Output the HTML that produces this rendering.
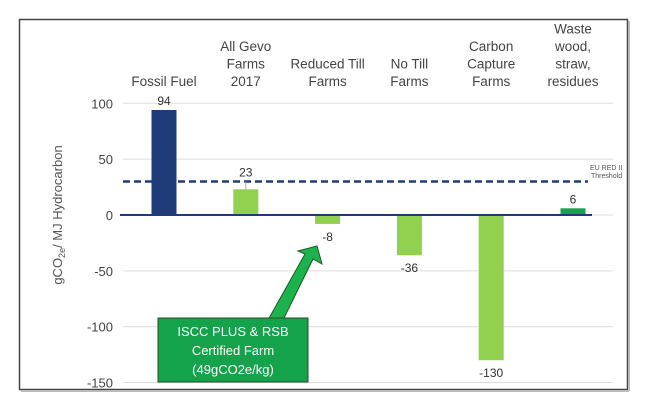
<!DOCTYPE html>
<html><head><meta charset="utf-8"><style>
body{margin:0;background:#fff;font-family:"Liberation Sans","DejaVu Sans",sans-serif;}
svg text{font-family:"Liberation Sans","DejaVu Sans",sans-serif;}
</style></head><body>
<svg id="chart" width="650" height="402" viewBox="0 0 650 402" xmlns="http://www.w3.org/2000/svg">
<rect x="19.5" y="19.5" width="608" height="370" fill="#fff" stroke="#444" stroke-width="1.5"/>
<line x1="21" y1="391" x2="629" y2="391" stroke="#bbb" stroke-width="2"/>
<line x1="629" y1="21" x2="629" y2="391" stroke="#bbb" stroke-width="2"/>
<g id="grid"></g><g id="bars"></g><g id="labels"></g>
<text transform="translate(62,215) rotate(-90)" text-anchor="middle" font-size="13" fill="#555">gCO<tspan font-size="9" dy="3">2e</tspan><tspan dy="-3">/ MJ Hydrocarbon</tspan></text>
<text x="590" y="170" font-size="7" fill="#555">EU RED II</text>
<text x="591" y="178" font-size="7" fill="#555">Threshold</text>
<polygon points="268,320 283,320 313,259 322,264 317,246 298,251 305,254" fill="#1db34c" stroke="#1a5a2a" stroke-width="1"/>
<rect x="158" y="318" width="150" height="64" fill="#14a24a" stroke="#2b4a2b" stroke-width="1"/>
<text x="233" y="336" text-anchor="middle" font-size="13" fill="#fff">ISCC PLUS &amp; RSB</text>
<text x="233" y="355" text-anchor="middle" font-size="13" fill="#fff">Certified Farm</text>
<text x="233" y="374" text-anchor="middle" font-size="13" fill="#fff">(49gCO2e/kg)</text>
</svg>
<script>
const categories=[["Fossil Fuel"],["All Gevo","Farms","2017"],["Reduced Till","Farms"],["No Till","Farms"],["Carbon","Capture","Farms"],["Waste","wood,","straw,","residues"]];
const values=[94,23,-8,-36,-130,6];
const colors=["#1f3c78","#92d050","#92d050","#92d050","#92d050","#17a24b"];
const ticks=[100,50,0,-50,-100,-150];
const threshold=30;
const NS="http://www.w3.org/2000/svg";
const y=v=>215-v*1.117;
const x=i=>164+i*81.8;
function mk(tag,attrs,parent,txt){const e=document.createElementNS(NS,tag);for(const k in attrs)e.setAttribute(k,attrs[k]);if(txt!==undefined)e.textContent=txt;document.getElementById(parent).appendChild(e);return e;}
ticks.forEach(t=>{
 const g=mk('line',{x1:123,x2:613,y1:y(t),y2:y(t),stroke:'#ddd','stroke-width':1},'grid');
 
 
 const l=mk('text',{x:113,y:y(t)+5,'text-anchor':'end','font-size':13,fill:'#444'},'grid',String(t));
 
 
});
values.forEach((v,i)=>{
 const b=mk('rect',{x:x(i)-12.5,width:25,y:Math.min(y(v),y(0)),height:Math.abs(y(v)-y(0)),fill:colors[i]},'bars');
 
 
 let ly=v>=0?y(v)-5:y(v)+17;
 if(v>=0 && Math.abs(v-threshold)<14){
  ly=y(threshold)-5;
  const ld=mk('line',{x1:x(i),x2:x(i),y1:y(threshold),y2:y(v),stroke:'#aaa','stroke-width':1},'labels');
  
  
 }
 const vl=mk('text',{x:x(i),y:ly,'text-anchor':'middle','font-size':12,fill:'#333'},'labels',String(v));
 
 
 const lines=categories[i];
 lines.forEach((s,j)=>{
  const c=mk('text',{x:x(i),y:86-(lines.length-1-j)*17.5,'text-anchor':'middle','font-size':13.5,fill:'#444'},'labels',s);
  
  
 });
});
const z=mk('line',{x1:120,x2:592,y1:y(0),y2:y(0),stroke:'#1f3c78','stroke-width':2},'bars');


const d=mk('line',{x1:123,x2:588,y1:y(threshold),y2:y(threshold),stroke:'#1f3c78','stroke-width':2.5,'stroke-dasharray':'7,4'},'bars');


</script>
</body></html>
